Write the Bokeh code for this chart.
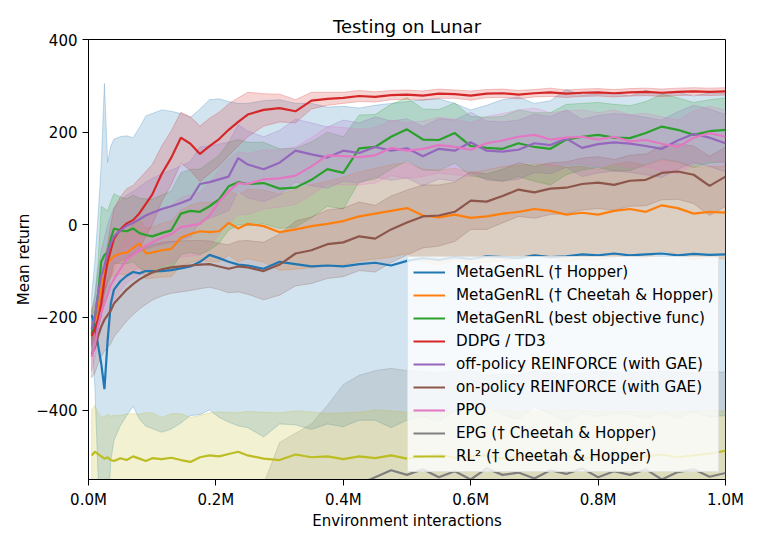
from bokeh.plotting import figure
from bokeh.models import FixedTicker, Legend, LegendItem, Range1d
from bokeh.embed import file_html
from bokeh.resources import INLINE

# ---------------- data ----------------
X_M = [0.005, 0.01, 0.015, 0.02, 0.025, 0.03, 0.035, 0.04, 0.05, 0.06, 0.07, 0.08, 0.09, 0.10,
       0.115, 0.13, 0.145, 0.16, 0.175, 0.19, 0.205, 0.22, 0.235, 0.25, 0.275, 0.30, 0.325, 0.35,
       0.375, 0.40, 0.425, 0.45, 0.475, 0.50, 0.525, 0.55, 0.575, 0.60, 0.625, 0.65, 0.675, 0.70,
       0.725, 0.75, 0.775, 0.80, 0.825, 0.85, 0.875, 0.90, 0.925, 0.95, 0.975, 1.00]

blue_mean = [-195, -215, -260, -300, -355, -250, -170, -140, -122, -110, -102, -105, -100, -100,
             -100, -98, -94, -90, -80, -65, -72, -80, -86, -88, -95, -80, -85, -90,
             -88, -90, -85, -82, -88, -78, -72, -76, -70, -74, -68, -70, -72, -66,
             -70, -68, -64, -66, -62, -66, -64, -62, -66, -63, -65, -64]
blue_sd = [45, 135, 280, 430, 660, 385, 340, 325, 312, 302, 290, 315, 335, 340,
           348, 343, 334, 322, 330, 335, 344, 346, 348, 350, 363, 350, 347, 352,
           342, 346, 337, 340, 350, 344, 342, 348, 332, 322, 326, 340, 348, 328,
           338, 360, 344, 348, 346, 344, 354, 344, 352, 341, 350, 348]

orange_mean = [-215, -210, -180, -140, -105, -85, -75, -68, -62, -60, -50, -40, -62, -60,
               -55, -52, -28, -20, -14, -16, -14, 4, -8, 2, -3, -16, -10, -3,
               2, 8, 18, 24, 30, 36, 20, 16, 22, 15, 18, 24, 28, 34,
               30, 22, 26, 22, 30, 34, 28, 42, 36, 24, 28, 26]
orange_sd = [35, 35, 35, 35, 38, 40, 40, 42, 45, 48, 50, 52, 55, 55,
             58, 60, 60, 62, 62, 64, 66, 70, 72, 75, 78, 82, 86, 90,
             92, 95, 96, 98, 100, 98, 100, 102, 100, 98, 100, 102, 100, 98,
             100, 102, 100, 98, 100, 102, 100, 98, 100, 100, 98, 100]

green_mean = [-235, -200, -150, -80, -65, -60, -30, -8, -12, -14, -8, -18, -22, -25,
              -18, -12, 24, 30, 28, 40, 55, 83, 92, 88, 90, 78, 80, 97,
              120, 112, 165, 168, 190, 206, 184, 183, 198, 170, 166, 164, 176, 168,
              164, 184, 190, 194, 188, 187, 198, 212, 205, 194, 202, 205]
green_sd = [40, 50, 70, 120, 100, 90, 80, 75, 72, 70, 72, 75, 78, 80,
            82, 85, 88, 90, 92, 95, 95, 95, 92, 90, 88, 86, 85, 82,
            80, 78, 72, 70, 70, 68, 66, 66, 65, 64, 66, 70, 72, 74,
            78, 76, 72, 70, 72, 70, 68, 70, 69, 70, 68, 69]

red_mean = [-240, -225, -205, -170, -120, -80, -55, -30, -10, 3, 10, 25, 45, 65,
            110, 145, 188, 175, 153, 170, 185, 205, 222, 238, 248, 252, 245, 268,
            272, 274, 278, 276, 280, 281, 279, 283, 282, 279, 283, 284, 281, 284,
            286, 283, 285, 286, 284, 286, 287, 285, 287, 288, 287, 288]
red_sd = [20, 20, 22, 25, 30, 40, 55, 65, 70, 75, 75, 75, 70, 65,
          60, 58, 55, 58, 60, 60, 58, 56, 52, 48, 35, 30, 25, 18,
          14, 12, 12, 11, 10, 10, 10, 10, 9, 10, 9, 9, 9, 8,
          9, 8, 8, 8, 8, 8, 8, 8, 8, 8, 8, 8]

purple_mean = [-225, -200, -150, -110, -89, -60, -40, -25, -12, -2, 4, 12, 20, 26,
               34, 40, 47, 55, 88, 92, 98, 104, 144, 130, 120, 134, 160, 152,
               145, 160, 155, 168, 160, 165, 148, 164, 160, 178, 160, 158, 162, 176,
               172, 186, 166, 174, 178, 175, 170, 164, 182, 196, 188, 176]
purple_sd = [40, 45, 50, 55, 60, 60, 60, 62, 64, 66, 68, 70, 72, 74,
             76, 78, 80, 82, 80, 78, 76, 74, 72, 72, 70, 70, 68, 68,
             66, 66, 65, 65, 64, 64, 64, 65, 66, 65, 64, 64, 64, 63,
             62, 62, 62, 62, 62, 62, 62, 62, 62, 62, 62, 62]

brown_mean = [-280, -265, -240, -220, -205, -195, -185, -170, -155, -140, -128, -118, -110, -103,
              -96, -92, -90, -88, -86, -85, -90, -95, -90, -92, -100, -86, -62, -55,
              -42, -38, -25, -30, -10, 5, 18, 20, 28, 52, 50, 62, 76, 70,
              78, 80, 88, 91, 86, 95, 97, 112, 115, 108, 84, 104]
brown_sd = [50, 55, 60, 65, 68, 70, 72, 72, 70, 68, 66, 64, 62, 60,
            58, 56, 55, 54, 52, 50, 50, 52, 55, 58, 62, 66, 70, 72,
            74, 74, 74, 72, 72, 70, 68, 66, 64, 62, 60, 58, 58, 56,
            56, 56, 56, 56, 55, 55, 56, 58, 60, 62, 64, 64]

pink_mean = [-285, -260, -220, -190, -170, -150, -130, -118, -95, -75, -65, -55, -45, -38,
             -28, -20, -5, -2, 2, 20, 50, 72, 90, 88, 98, 100, 106, 126,
             150, 148, 146, 150, 166, 160, 164, 172, 168, 162, 176, 182, 190, 194,
             184, 188, 190, 184, 190, 180, 183, 175, 168, 188, 198, 190]
pink_sd = [30, 30, 32, 35, 38, 40, 42, 45, 48, 50, 52, 54, 56, 58,
           60, 62, 64, 66, 68, 70, 70, 70, 68, 66, 64, 62, 62, 62,
           62, 62, 60, 60, 60, 60, 60, 60, 60, 58, 58, 58, 58, 58,
           58, 58, 58, 58, 58, 58, 58, 58, 58, 58, 58, 58]

gray_mean = [-720, -720, -720, -720, -720, -720, -720, -720, -720, -720, -720, -720, -720, -720,
             -720, -720, -720, -720, -720, -720, -720, -720, -720, -720, -700, -660, -630, -610,
             -590, -575, -560, -545, -530, -540, -528, -545, -532, -550, -526, -540, -535, -548,
             -530, -538, -526, -545, -532, -540, -528, -550, -534, -528, -544, -536]
gray_sd = [100, 100, 100, 100, 100, 100, 100, 100, 100, 100, 100, 100, 100, 100,
           100, 100, 100, 100, 100, 100, 100, 100, 100, 100, 140, 190, 180, 180,
           200, 230, 235, 230, 220, 225, 210, 225, 215, 235, 200, 218, 210, 232,
           210, 215, 205, 228, 212, 222, 210, 234, 215, 208, 226, 218]

olive_mean = [-498, -490, -495, -500, -505, -502, -508, -510, -504, -508, -500, -505, -510, -504,
              -506, -503, -508, -512, -502, -498, -500, -495, -490, -498, -505, -508, -496, -502,
              -500, -506, -500, -504, -498, -505, -500, -496, -503, -500, -498, -505, -500, -496,
              -502, -499, -505, -500, -497, -503, -500, -496, -502, -498, -494, -488]
olive_sd = [98, 100, 88, 85, 90, 92, 95, 98, 92, 100, 92, 96, 104, 98,
            90, 95, 100, 96, 90, 92, 96, 90, 84, 95, 100, 102, 94, 98,
            92, 100, 95, 104, 96, 100, 94, 90, 100, 106, 98, 104, 96, 92,
            100, 98, 104, 96, 94, 100, 96, 92, 98, 95, 92, 86]

LABELS = ["MetaGenRL († Hopper)", "MetaGenRL († Cheetah & Hopper)",
          "MetaGenRL (best objective func)", "DDPG / TD3",
          "off-policy REINFORCE (with GAE)", "on-policy REINFORCE (with GAE)",
          "PPO", "EPG († Cheetah & Hopper)", "RL² († Cheetah & Hopper)"]
COLORS = ["#1f77b4", "#ff7f0e", "#2ca02c", "#d62728", "#9467bd",
          "#8c564b", "#e377c2", "#7f7f7f", "#bcbd22"]
MEANS = [blue_mean, orange_mean, green_mean, red_mean, purple_mean,
         brown_mean, pink_mean, gray_mean, olive_mean]
SDS = [blue_sd, orange_sd, green_sd, red_sd, purple_sd,
       brown_sd, pink_sd, gray_sd, olive_sd]

X_TICKS = [0, 200000, 400000, 600000, 800000, 1000000]
X_TICK_LABELS = ["0.0M", "0.2M", "0.4M", "0.6M", "0.8M", "1.0M"]
Y_TICKS = [-400, -200, 0, 200, 400]
Y_TICK_LABELS = ["\u2212400", "\u2212200", "0", "200", "400"]

# ---------------- figure ----------------
FONT = "DejaVu Sans"
x = [v * 1e6 for v in X_M]

p = figure(frame_width=637, frame_height=440,
           x_range=Range1d(0, 1e6), y_range=Range1d(-550, 400),
           output_backend="svg", toolbar_location=None,
           min_border_left=88, min_border_top=39, min_border_right=20, min_border_bottom=49,
           title="Testing on Lunar",
           x_axis_label="Environment interactions", y_axis_label="Mean return")

p.background_fill_color = "white"
p.border_fill_color = "white"
p.outline_line_color = "black"
p.outline_line_width = 1
p.grid.visible = False

p.title.text_font = FONT
p.title.text_font_size = "18px"
p.title.text_font_style = "normal"
p.title.text_color = "black"
p.title.align = "center"
p.title.standoff = 6

for ax in (p.xaxis[0], p.yaxis[0]):
    ax.major_label_text_font = FONT
    ax.major_label_text_font_size = "15px"
    ax.major_label_text_color = "black"
    ax.axis_label_text_font = FONT
    ax.axis_label_text_font_size = "15px"
    ax.axis_label_text_font_style = "normal"
    ax.axis_label_text_color = "black"
    ax.major_tick_in = 0
    ax.major_tick_out = 6
    ax.minor_tick_line_color = None
    ax.axis_line_color = "black"
    ax.major_tick_line_color = "black"
    ax.major_label_standoff = 5

p.xaxis.axis_label_standoff = 0
p.yaxis.axis_label_standoff = 0

p.xaxis.ticker = FixedTicker(ticks=X_TICKS)
p.xaxis.major_label_overrides = dict(zip(X_TICKS, X_TICK_LABELS))
p.yaxis.ticker = FixedTicker(ticks=Y_TICKS)
p.yaxis.major_label_overrides = dict(zip(Y_TICKS, Y_TICK_LABELS))

# bands
for mean, sd, c in zip(MEANS, SDS, COLORS):
    hi = [m + s for m, s in zip(mean, sd)]
    lo = [m - s for m, s in zip(mean, sd)]
    p.patch(x + x[::-1], hi + lo[::-1], fill_color=c, fill_alpha=0.2,
            line_color=c, line_alpha=0.25, line_width=1)

# mean lines
items = []
for mean, c, lab in zip(MEANS, COLORS, LABELS):
    r = p.line(x, mean, line_color=c, line_width=2.2)
    items.append(LegendItem(label=lab, renderers=[r]))

legend = Legend(items=items, location=(319, 7), margin=0, padding=5, spacing=3,
                glyph_width=32, glyph_height=20, label_height=20, label_standoff=11,
                label_text_font=FONT, label_text_font_size="15.2px", label_text_color="black",
                border_line_color="#cccccc", border_line_width=1,
                background_fill_color="white", background_fill_alpha=0.8)
p.add_layout(legend)

open("out.html", "w").write(file_html(p, INLINE))
